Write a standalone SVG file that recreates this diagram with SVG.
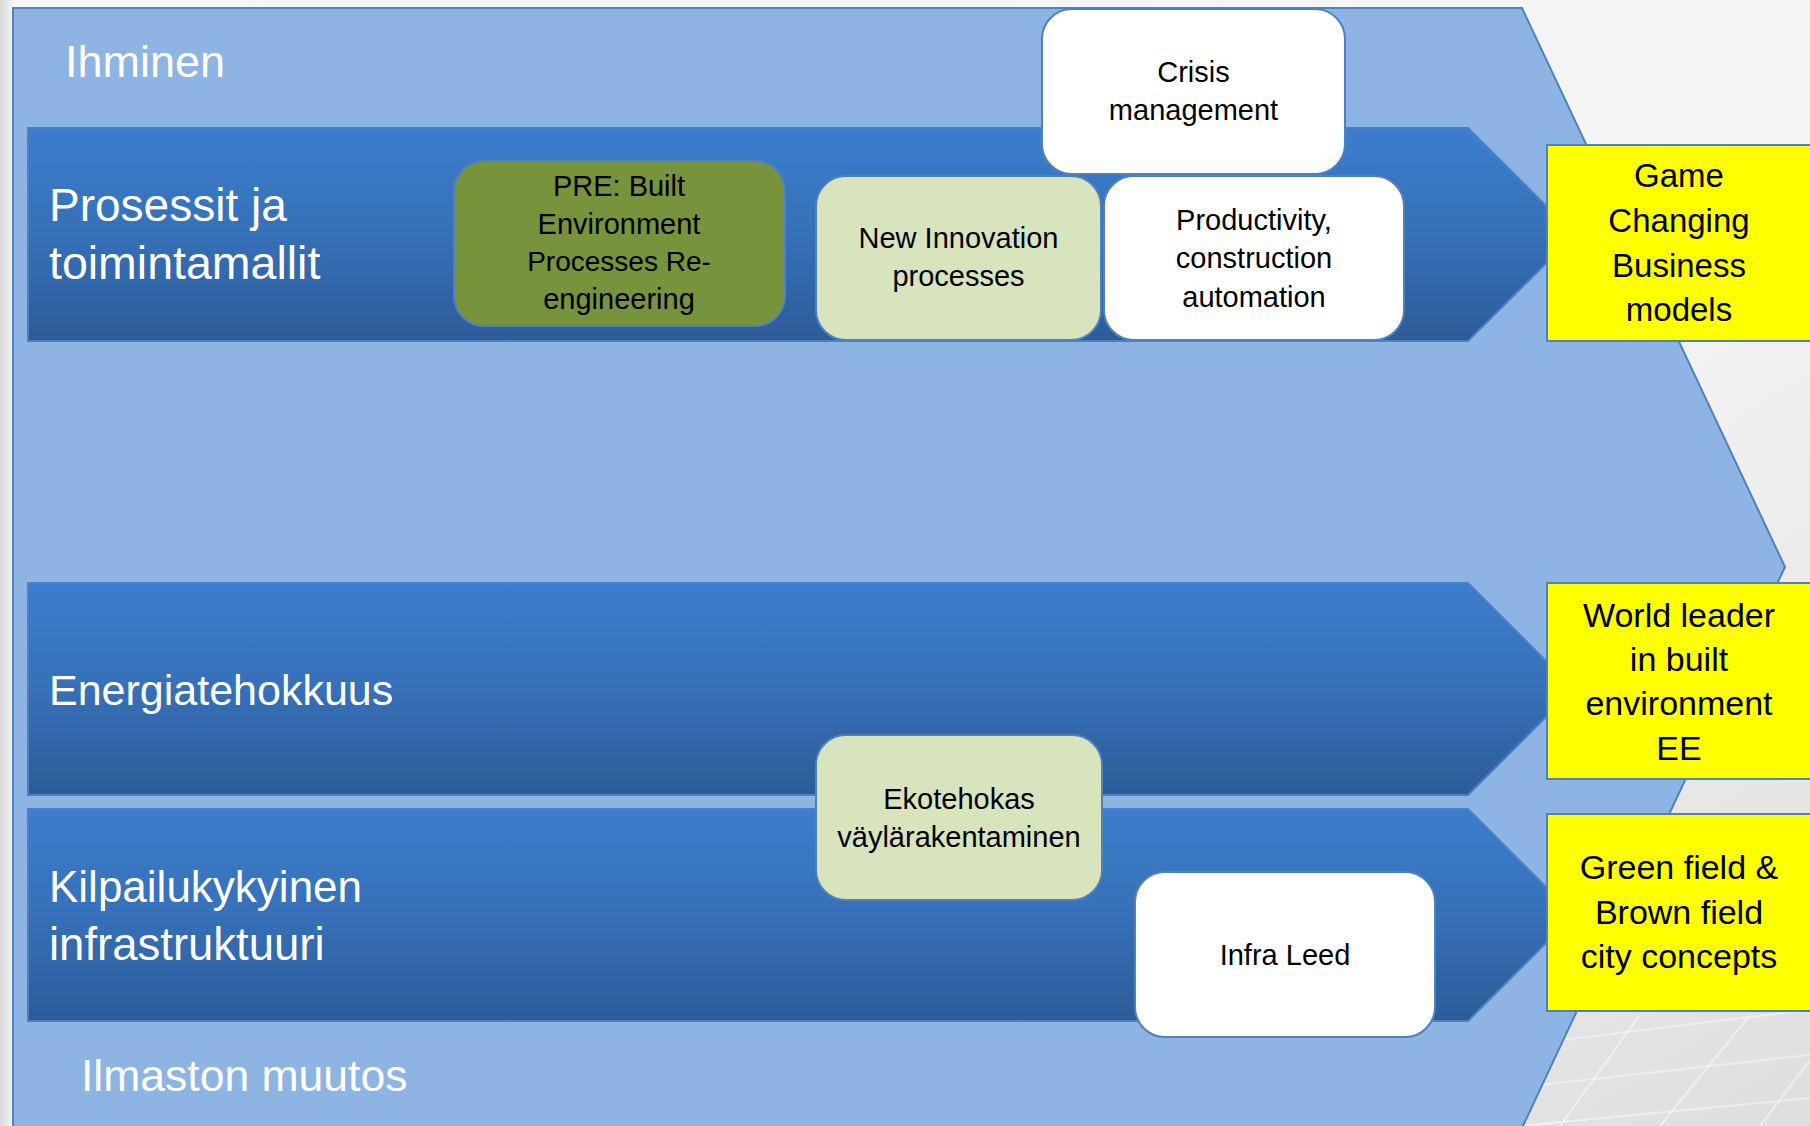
<svg xmlns="http://www.w3.org/2000/svg" width="1810" height="1126" viewBox="0 0 1810 1126">
  <defs>
    <linearGradient id="bandGrad" x1="0" y1="0" x2="0" y2="1">
      <stop offset="0" stop-color="#3C7ECC"/>
      <stop offset="0.5" stop-color="#3670B8"/>
      <stop offset="1" stop-color="#2D5B98"/>
    </linearGradient>
    <linearGradient id="pageGrad" x1="0" y1="0" x2="1" y2="1">
      <stop offset="0" stop-color="#F7F7F7"/>
      <stop offset="0.6" stop-color="#F3F3F3"/>
      <stop offset="1" stop-color="#DEDEDE"/>
    </linearGradient>
    <linearGradient id="leftGrad" x1="0" y1="0" x2="1" y2="0">
      <stop offset="0" stop-color="#DADADA"/>
      <stop offset="1" stop-color="#F4F4F4"/>
    </linearGradient>
  </defs>
  <style>
    .band { fill: url(#bandGrad); stroke: #4A80C4; stroke-width: 2; }
    .bg { fill: #8EB4E3; stroke: #4F81BD; stroke-width: 2; }
    .box { stroke: #4F81BD; stroke-width: 2; }
    .white { fill: #FFFFFF; }
    .olive { fill: #77933C; }
    .pale { fill: #D7E4BD; }
    .yellow { fill: #FFFF00; stroke: #4F81BD; stroke-width: 2; }
    .title { font-family: "Liberation Sans", Arial, sans-serif; font-size: 45px; fill: #FFFFFF; }
    .lbl { font-family: "Liberation Sans", Arial, sans-serif; font-size: 29px; fill: #000000; text-anchor: middle; }
    .ylbl { font-family: "Liberation Sans", Arial, sans-serif; font-size: 34px; fill: #000000; text-anchor: middle; }
    .grid { stroke: #FFFFFF; stroke-opacity: 0.45; stroke-width: 2; fill: none; }
  </style>

  <!-- page background -->
  <rect x="0" y="0" width="1810" height="1126" fill="url(#pageGrad)"/>
  <rect x="0" y="0" width="14" height="1126" fill="url(#leftGrad)"/>
  <g class="grid">
    <line x1="1560" y1="1040" x2="1810" y2="1010"/>
    <line x1="1540" y1="1085" x2="1810" y2="1055"/>
    <line x1="1520" y1="1126" x2="1810" y2="1098"/>
    <line x1="1560" y1="1126" x2="1640" y2="1015"/>
    <line x1="1660" y1="1126" x2="1750" y2="1015"/>
    <line x1="1760" y1="1126" x2="1810" y2="1060"/>
  </g>

  <!-- main light-blue chevron -->
  <g id="ihminen">
    <polygon class="bg" points="13,8 1522,8 1785,567 1522,1128 13,1128"/>
    <text class="title" x="65" y="77">Ihminen</text>
    <text class="title" x="81" y="1091" style="font-size:44.5px">Ilmaston muutos</text>
  </g>

  <!-- bands -->
  <g id="band-prosessit">
    <polygon class="band" points="28,128 1468,128 1575,234.5 1468,341 28,341"/>
    <text class="title" x="49" y="221" style="font-size:46px">Prosessit ja</text>
    <text class="title" x="49" y="279" style="font-size:46.5px">toimintamallit</text>
  </g>
  <g id="band-energia">
    <polygon class="band" points="28,583 1468,583 1574,689 1468,795 28,795"/>
    <text class="title" x="49" y="705" style="font-size:43px">Energiatehokkuus</text>
  </g>
  <g id="band-infra">
    <polygon class="band" points="28,809 1468,809 1574,915 1468,1021 28,1021"/>
    <text class="title" x="49" y="902" style="font-size:44px">Kilpailukykyinen</text>
    <text class="title" x="49" y="960" style="font-size:45.5px">infrastruktuuri</text>
  </g>

  <!-- connectors (none drawn in the picture) -->
  <g id="connectors"/>

  <!-- boxes -->
  <g id="pre">
    <rect class="box olive" x="454" y="161" width="331" height="165" rx="30"/>
    <text class="lbl" x="619" y="196">PRE: Built</text>
    <text class="lbl" x="619" y="234">Environment</text>
    <text class="lbl" x="619" y="271" style="font-size:28px">Processes Re-</text>
    <text class="lbl" x="619" y="309">engineering</text>
  </g>
  <g id="new-innovation">
    <rect class="box pale" x="816" y="176" width="285" height="164" rx="30"/>
    <text class="lbl" x="958.5" y="248">New Innovation</text>
    <text class="lbl" x="958.5" y="286">processes</text>
  </g>
  <g id="crisis">
    <rect class="box white" x="1042" y="9" width="303" height="165" rx="30"/>
    <text class="lbl" x="1193.5" y="82">Crisis</text>
    <text class="lbl" x="1193.5" y="120">management</text>
  </g>
  <g id="productivity">
    <rect class="box white" x="1104" y="176" width="300" height="164" rx="30"/>
    <text class="lbl" x="1254" y="230">Productivity,</text>
    <text class="lbl" x="1254" y="268">construction</text>
    <text class="lbl" x="1254" y="307">automation</text>
  </g>
  <g id="ekotehokas">
    <rect class="box pale" x="816" y="735" width="286" height="165" rx="30"/>
    <text class="lbl" x="959" y="809">Ekotehokas</text>
    <text class="lbl" x="959" y="847">väylärakentaminen</text>
  </g>
  <g id="infra-leed">
    <rect class="box white" x="1135" y="872" width="300" height="165" rx="30"/>
    <text class="lbl" x="1285" y="965">Infra Leed</text>
  </g>

  <!-- yellow outcome boxes -->
  <g id="game-changing">
    <rect class="yellow" x="1547" y="145" width="270" height="196"/>
    <text class="ylbl" x="1679" y="187" style="font-size:33px">Game</text>
    <text class="ylbl" x="1679" y="232" style="font-size:33px">Changing</text>
    <text class="ylbl" x="1679" y="277" style="font-size:33px">Business</text>
    <text class="ylbl" x="1679" y="321" style="font-size:33px">models</text>
  </g>
  <g id="world-leader">
    <rect class="yellow" x="1547" y="583" width="270" height="196"/>
    <text class="ylbl" x="1679" y="627">World leader</text>
    <text class="ylbl" x="1679" y="671">in built</text>
    <text class="ylbl" x="1679" y="715">environment</text>
    <text class="ylbl" x="1679" y="760">EE</text>
  </g>
  <g id="green-field">
    <rect class="yellow" x="1547" y="814" width="270" height="197"/>
    <text class="ylbl" x="1679" y="879">Green field &amp;</text>
    <text class="ylbl" x="1679" y="924">Brown field</text>
    <text class="ylbl" x="1679" y="968">city concepts</text>
  </g>
</svg>
